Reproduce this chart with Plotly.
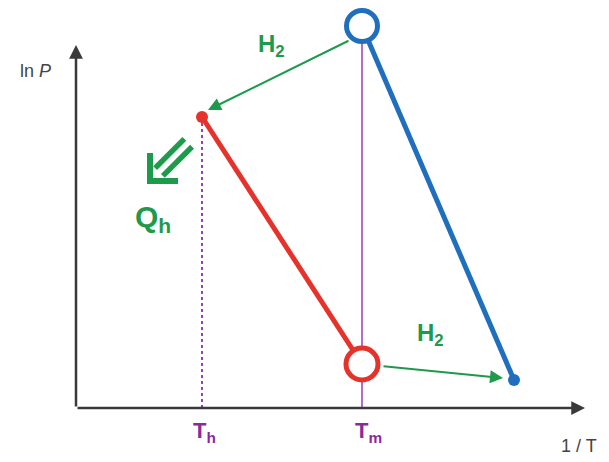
import plotly.graph_objects as go
import math

# Schematic coordinates (x ~ 1/T, y ~ ln P), arbitrary units
x_axis_end = 585
y_axis_end = 417
origin = [76, 54]

T_labels = ["T<sub>h</sub>", "T<sub>m</sub>"]
x_Th = 202
x_Tm = 362
x_cold = 514

# red (hot) branch: hot point -> medium-temperature low-pressure state
red_x = [x_Th, x_Tm]
red_y = [345, 98]
# blue (cold) branch: medium-temperature high-pressure state -> cold point
blue_x = [x_Tm, x_cold]
blue_y = [436, 82]

# hydrogen transfer arrows (tail -> head)
h2_top = [(350, 422), (208, 352)]
h2_bot = [(382, 96), (503, 84)]

# heat-release double arrow: tip position, length, shaft spacing, head arm length
q_tip = (150, 281)
q_len = 54
q_gap = 11
q_head = 28

RED = "#e5322b"
BLUE = "#1f6fbe"
GREEN = "#1d9a4b"
PURPLE = "#9a3fb5"
PURPLE_T = "#8a2a9c"
AXIS = "#3a3a3a"
FONT = "Arial, Liberation Sans, sans-serif"

fig = go.Figure()

# vertical reference lines
fig.add_trace(go.Scatter(x=[x_Th, x_Th], y=[origin[1], red_y[0]], mode="lines",
                         line=dict(color=PURPLE, width=2, dash="dot"), hoverinfo="skip"))
fig.add_trace(go.Scatter(x=[x_Tm, x_Tm], y=[origin[1], blue_y[0]], mode="lines",
                         line=dict(color=PURPLE, width=1.5), hoverinfo="skip"))

# branches
fig.add_trace(go.Scatter(x=red_x, y=red_y, mode="lines", line=dict(color=RED, width=5)))
fig.add_trace(go.Scatter(x=blue_x, y=blue_y, mode="lines", line=dict(color=BLUE, width=5)))

# end markers
fig.add_trace(go.Scatter(x=[red_x[0]], y=[red_y[0]], mode="markers",
                         marker=dict(color=RED, size=12)))
fig.add_trace(go.Scatter(x=[blue_x[1]], y=[blue_y[1]], mode="markers",
                         marker=dict(color=BLUE, size=12)))
fig.add_trace(go.Scatter(x=[red_x[1]], y=[red_y[1]], mode="markers",
                         marker=dict(color="white", size=32, line=dict(color=RED, width=5))))
fig.add_trace(go.Scatter(x=[blue_x[0]], y=[blue_y[0]], mode="markers",
                         marker=dict(color="white", size=31, line=dict(color=BLUE, width=5))))

# double arrow (Qh) built from the tip/length parameters
d = 1 / math.sqrt(2)
tx, ty = q_tip
for s in (-1, 1):
    ox, oy = s * q_gap / 2 * d, -s * q_gap / 2 * d
    sx0, sy0 = tx + 9 + ox, ty + 9 + oy
    sx1, sy1 = tx + q_len * d + ox, ty + q_len * d + oy
    fig.add_trace(go.Scatter(x=[sx0, sx1], y=[sy0, sy1], mode="lines",
                             line=dict(color=GREEN, width=5.5), hoverinfo="skip"))
fig.add_trace(go.Scatter(x=[tx, tx, tx + q_head], y=[ty + q_head, ty, ty], mode="lines",
                         line=dict(color=GREEN, width=6), hoverinfo="skip"))

ann = []
# axes with arrows
ann.append(dict(x=x_axis_end, y=origin[1], ax=origin[0], ay=origin[1], xref="x", yref="y",
                axref="x", ayref="y", showarrow=True, arrowhead=2, arrowsize=1.1,
                arrowwidth=2.5, arrowcolor=AXIS, text=""))
ann.append(dict(x=origin[0], y=y_axis_end, ax=origin[0], ay=origin[1], xref="x", yref="y",
                axref="x", ayref="y", showarrow=True, arrowhead=2, arrowsize=1.1,
                arrowwidth=2.5, arrowcolor=AXIS, text=""))
# H2 arrows
for (tail, head) in (h2_top, h2_bot):
    ann.append(dict(x=head[0], y=head[1], ax=tail[0], ay=tail[1], xref="x", yref="y",
                    axref="x", ayref="y", showarrow=True, arrowhead=2, arrowsize=1.3,
                    arrowwidth=2, arrowcolor=GREEN, text=""))

# labels
ann.append(dict(x=271, y=417, text="<b>H<sub>2</sub></b>", showarrow=False,
                font=dict(color=GREEN, size=24, family=FONT)))
ann.append(dict(x=430, y=128, text="<b>H<sub>2</sub></b>", showarrow=False,
                font=dict(color=GREEN, size=24, family=FONT)))
ann.append(dict(x=153, y=244, text="<b>Q<sub>h</sub></b>", showarrow=False,
                font=dict(color=GREEN, size=30, family=FONT)))
ann.append(dict(x=x_Th + 2, y=30, text="<b>" + T_labels[0] + "</b>", showarrow=False,
                font=dict(color=PURPLE_T, size=22, family=FONT)))
ann.append(dict(x=x_Tm + 6, y=30, text="<b>" + T_labels[1] + "</b>", showarrow=False,
                font=dict(color=PURPLE_T, size=22, family=FONT)))
ann.append(dict(x=35, y=391, text="ln <i>P</i>", showarrow=False,
                font=dict(color="#444444", size=18, family=FONT)))
ann.append(dict(x=579, y=16, text="1 / T", showarrow=False,
                font=dict(color="#444444", size=18, family=FONT)))

# page body has an 8px margin: the figure is offset, so ranges compensate
fig.update_layout(
    width=601, height=454,
    margin=dict(l=0, r=0, t=0, b=0),
    paper_bgcolor="white", plot_bgcolor="white",
    showlegend=False,
    xaxis=dict(range=[8, 609], visible=False, fixedrange=True),
    yaxis=dict(range=[0, 454], visible=False, fixedrange=True),
    annotations=ann,
)

fig.write_html("out.html")
